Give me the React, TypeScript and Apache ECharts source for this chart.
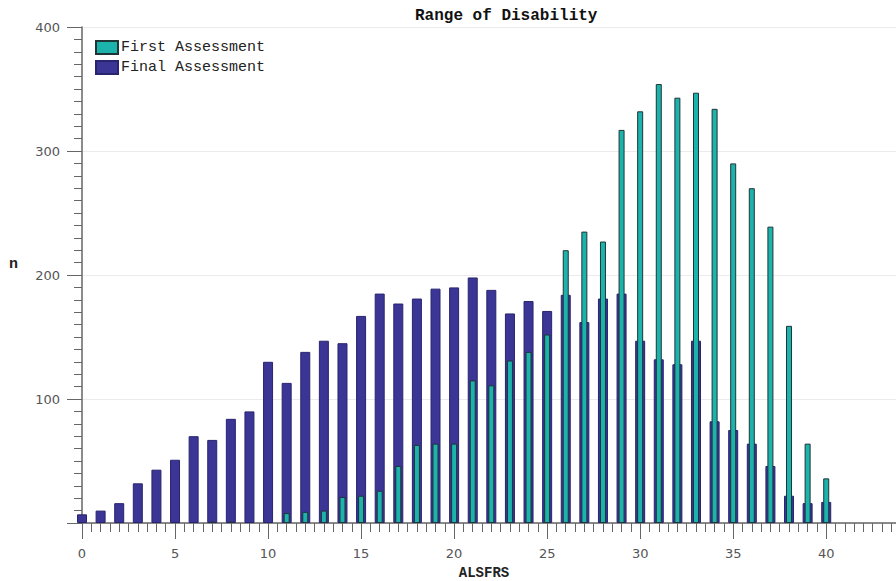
import React, { useEffect, useRef } from "react";
import * as echarts from "echarts";

const scores = Array.from({ length: 41 }, (_, i) => i);
const firstAssessment: (number | null)[] = [
  null, null, null, null, null, null, null, 1, 1, null, null, 8, 9, 10, 21, 22, 26, 46, 63, 64, 64,
  115, 111, 131, 138, 152, 220, 235, 227, 317, 332, 354, 343, 347, 334, 290, 270, 239, 159, 64, 36,
];
const finalAssessment: number[] = [
  7, 10, 16, 32, 43, 51, 70, 67, 84, 90, 130, 113, 138, 147, 145, 167, 185, 177, 181, 189, 190,
  198, 188, 169, 179, 171, 184, 162, 181, 185, 147, 132, 128, 147, 82, 75, 64, 46, 22, 16, 17,
];
const xMajorTicks = [0, 5, 10, 15, 20, 25, 30, 35, 40];
const yTickLabels = [100, 200, 300, 400];

const MONO = "'Liberation Mono', 'DejaVu Sans Mono', monospace";
const SANS = "'DejaVu Sans', Verdana, sans-serif";

export default function App() {
  const ref = useRef<HTMLDivElement>(null);
  useEffect(() => {
    if (!ref.current) return;
    const chart = echarts.init(ref.current, null, { renderer: "svg" });
    const xMax = 43.75;
    chart.setOption({
      animation: false,
      backgroundColor: "#ffffff",
      title: {
        text: "Range of Disability",
        left: 410,
        top: 3,
        textStyle: { fontFamily: MONO, fontWeight: "bold", fontSize: 16, color: "#111" },
      },
      legend: {
        orient: "vertical",
        left: 90,
        top: 35,
        itemWidth: 22,
        itemHeight: 13,
        itemGap: 5,
        icon: "rect",
        data: ["First Assessment", "Final Assessment"],
        textStyle: { fontFamily: MONO, fontSize: 15, color: "#222", padding: [0, 0, 0, -2] },
      },
      grid: { left: 82, right: 0, top: 27, bottom: 58, containLabel: false, outerBoundsMode: "none" },
      xAxis: [
        {
          type: "value",
          position: "bottom",
          min: 0,
          max: xMax,
          interval: 0.5,
          name: "ALSFRS",
          nameLocation: "middle",
          nameGap: 43,
          nameTextStyle: { fontFamily: MONO, fontWeight: "bold", fontSize: 14, color: "#222", padding: [0, 10, 0, 0] },
          axisLine: { show: true, lineStyle: { color: "#666", width: 1.5 } },
          axisTick: { show: true, length: 9, lineStyle: { color: "#666" } },
          axisLabel: {
            margin: 24,
            fontFamily: SANS,
            fontSize: 13,
            color: "#555",
            showMaxLabel: false,
            formatter: (v: number) => (xMajorTicks.includes(v) ? String(v) : ""),
          },
          splitLine: { show: false },
        },
        {
          type: "value",
          position: "bottom",
          min: 0,
          max: xMax,
          interval: 5,
          axisLine: { show: false },
          axisTick: { show: true, length: 16, lineStyle: { color: "#666" } },
          axisLabel: { show: false },
          splitLine: { show: false },
        },
      ],
      yAxis: {
        type: "value",
        min: 0,
        max: 400,
        interval: 100,
        name: "n",
        nameLocation: "middle",
        nameRotate: 0,
        nameGap: 64,
        nameTextStyle: {
          fontFamily: MONO,
          fontWeight: "bold",
          fontSize: 15,
          color: "#222",
          verticalAlign: "bottom",
          lineHeight: 22,
        },
        axisLine: { show: true, lineStyle: { color: "#666", width: 1.5 } },
        axisTick: { show: true, length: 15, lineStyle: { color: "#666" } },
        minorTick: { show: true, splitNumber: 10, length: 8, lineStyle: { color: "#666" } },
        axisLabel: {
          margin: 22,
          fontFamily: SANS,
          fontSize: 13,
          color: "#555",
          showMinLabel: false,
          formatter: (v: number) => (yTickLabels.includes(v) ? String(v) : ""),
        },
        splitLine: { show: true, lineStyle: { color: "#ebebeb", width: 1 } },
      },
      series: [
        {
          name: "Final Assessment",
          type: "bar",
          xAxisIndex: 0,
          barWidth: 10,
          clip: true,
          data: scores.map((s, i) => [s, finalAssessment[i]]),
          itemStyle: { color: "#3b3596", borderColor: "#28246e", borderWidth: 1 },
        },
        {
          name: "First Assessment",
          type: "bar",
          xAxisIndex: 1,
          barWidth: 6,
          clip: true,
          data: scores.map((s, i) => [s, firstAssessment[i]]),
          itemStyle: { color: "#1db3ad", borderColor: "#1f3536", borderWidth: 1 },
        },
      ],
    });
    return () => chart.dispose();
  }, []);
  return (
    <div
      ref={ref}
      style={{ position: "fixed", left: 0, top: 0, width: 896, height: 581, background: "#fff" }}
    />
  );
}
